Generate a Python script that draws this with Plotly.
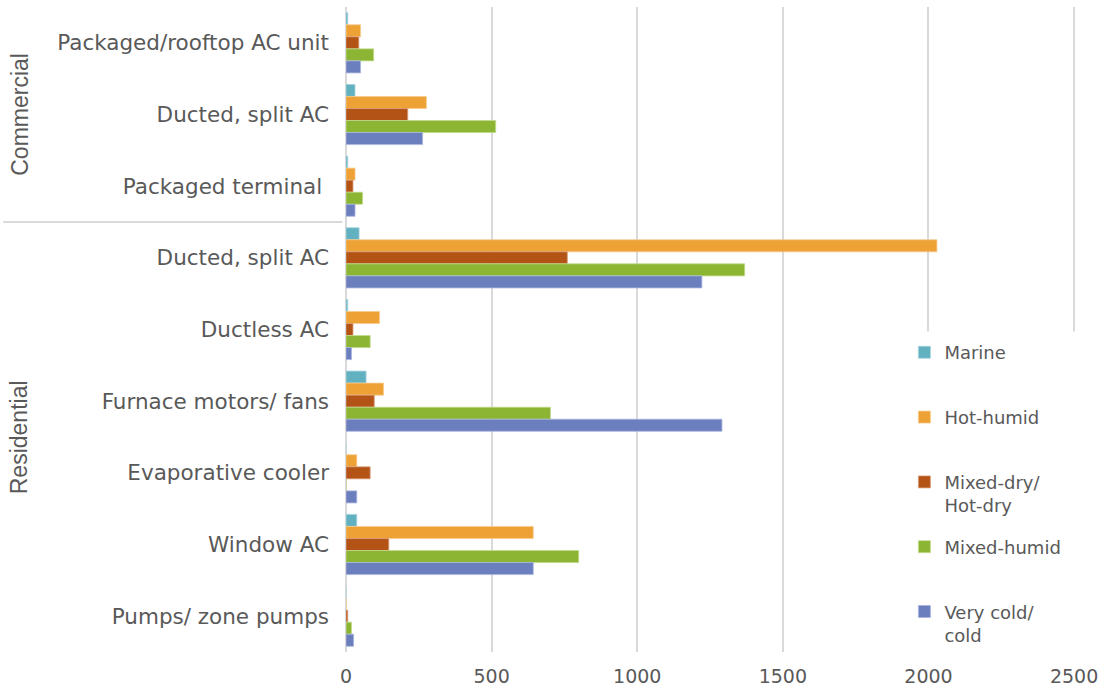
import plotly.graph_objects as go

# HVAC equipment categories, grouped by sector (top to bottom)
groups = ["Commercial", "Commercial", "Commercial",
          "Residential", "Residential", "Residential",
          "Residential", "Residential", "Residential"]
equipment = ["Packaged/rooftop AC unit", "Ducted, split AC", "Packaged terminal\u00a0",
             "Ducted, split AC", "Ductless AC", "Furnace motors/ fans",
             "Evaporative cooler", "Window AC", "Pumps/ zone pumps"]

# Values per climate region
marine = [6, 31, 6, 45, 6, 69, 0, 37, 0]
hot_humid = [50, 276, 31, 2029, 115, 129, 37, 643, 0]
mixed_dry = [44, 212, 24, 760, 24, 97, 83, 147, 6]
mixed_humid = [95, 514, 57, 1369, 83, 702, 0, 799, 19]
very_cold = [50, 263, 31, 1222, 19, 1291, 37, 643, 26]

series_names = ["Marine", "Hot-humid", "Mixed-dry/<br>Hot-dry", "Mixed-humid", "Very cold/<br>cold"]
series_values = [marine, hot_humid, mixed_dry, mixed_humid, very_cold]
series_colors = ["#62B1C0", "#EEA135", "#B45316", "#8CB534", "#6B7EBD"]
edge_colors = ["#A8D4DD", "#F6CB8E", "#D9A07E", "#C2DA8E", "#A9B6DF"]

x_ticks = [0, 500, 1000, 1500, 2000, 2500]

cat_ids = [f"{g}|{e}" for g, e in zip(groups, equipment)]

fig = go.Figure()
for i, (name, vals, col, edge) in enumerate(zip(series_names, series_values, series_colors, edge_colors)):
    label = name if "<br>" in name else name + "<br>\u00a0"
    fig.add_trace(go.Bar(
        y=cat_ids, x=vals, orientation="h", name=label,
        legendgroup=f"g{i}",
        marker=dict(color=col, line=dict(color=edge, width=0.8)),
    ))

text_color = "#595959"
grid_color = "#D9D9D9"

fig.update_layout(
    width=1106, height=694,
    margin=dict(l=346, r=29, t=7, b=39),
    paper_bgcolor="white", plot_bgcolor="white",
    barmode="group", bargap=0.16, bargroupgap=0,
    font=dict(family="DejaVu Sans", color=text_color),
    xaxis=dict(
        range=[0, 2510], tickvals=x_ticks, ticktext=[str(v) for v in x_ticks],
        showgrid=True, gridcolor=grid_color, gridwidth=1.6,
        zeroline=True, zerolinecolor=grid_color, zerolinewidth=1.6,
        showline=False, ticks="", ticklabelstandoff=11,
        tickfont=dict(family="DejaVu Sans", size=19, color=text_color),
    ),
    yaxis=dict(
        type="category", autorange="reversed",
        tickvals=cat_ids, ticktext=equipment,
        showgrid=False, zeroline=False, showline=False, ticks="",
        ticklabelstandoff=16,
        tickfont=dict(family="DejaVu Sans", size=21.5, color=text_color),
    ),
    legend=dict(
        x=0.7639, xanchor="left", y=0.4929, yanchor="top",
        traceorder="grouped", tracegroupgap=15, valign="top",
        bgcolor="rgba(0,0,0,0)",
        font=dict(family="DejaVu Sans", size=18, color=text_color),
    ),
    showlegend=True,
)

# White panel behind the legend
fig.add_shape(type="rect", xref="paper", yref="paper",
              x0=0.7763, x1=1.05, y0=-0.01, y1=0.4969,
              fillcolor="white", line=dict(width=0), layer="above")

# Divider between the commercial and residential groups
fig.add_shape(type="line", xref="paper", yref="y",
              x0=-0.4688, x1=-0.0048, y0=2.5, y1=2.5,
              line=dict(color=grid_color, width=2))

# Rotated sector labels
for text, ypos in [("Commercial", 1), ("Residential", 5.5)]:
    fig.add_annotation(text=text, xref="paper", yref="y", x=-0.447, y=ypos,
                       textangle=-90, showarrow=False, xanchor="center", yanchor="middle",
                       font=dict(family="Liberation Sans", size=23, color=text_color))

fig.write_html("out.html")
